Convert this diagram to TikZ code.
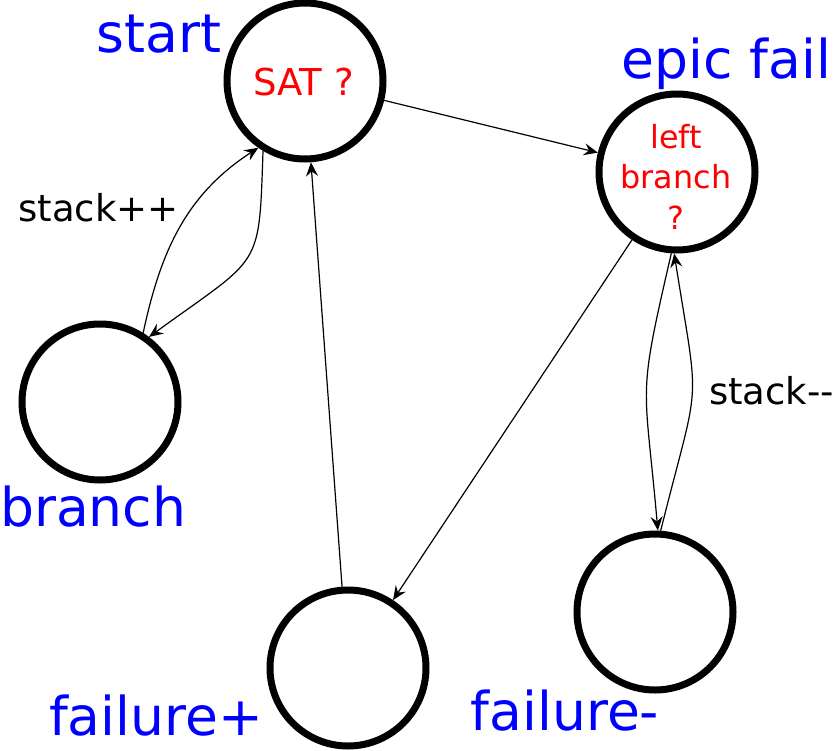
\documentclass[tikz,border=0pt]{standalone}
\usepackage{fontspec}
\setmainfont{DejaVu Sans}
\usetikzlibrary{arrows.meta}
\begin{document}
\begin{tikzpicture}[x=1pt,y=1pt,
  state/.style={circle, draw=black, line width=7pt, minimum size=156pt, inner sep=0pt, outer sep=3.5pt},
  statename/.style={text=blue, font=\fontsize{53.5}{62}\selectfont, anchor=base, inner sep=0pt},
  intext/.style={text=red, font=\fontsize{37}{42}\selectfont, anchor=base, inner sep=0pt},
  edgelab/.style={text=black, font=\fontsize{37}{42}\selectfont, anchor=base, inner sep=0pt},
  conn/.style={line width=1.2pt, -{Stealth[length=14pt,width=12pt,inset=5pt]}}
]
\useasboundingbox (0,0) rectangle (833,-750);
\node[state] (start) at (305,-81) {};
\node[state] (epic) at (677,-172) {};
\node[state] (branch) at (100,-402) {};
\node[state] (failp) at (348,-668) {};
\node[state] (failm) at (655,-612) {};

\node[statename] (lstart) at (159,-52) {start};
\node[statename] (lepic) at (726.5,-78) {epic fail};
\node[statename, anchor=base west] (lbranch) at (0,-526) {branch};
\node[statename] (lfailp) at (156,-735) {failure+};
\node[statename] (lfailm) at (565,-730) {failure-};

\node[intext] (tsat) at (303.5,-95) {SAT ?};
\node[intext, align=center, font=\fontsize{31.8}{40.5}\selectfont, anchor=north] (tleft) at (676,-124) {left\\branch\\?};

\node[edgelab] (lpp) at (98.5,-221) {stack++};
\node[edgelab] (lmm) at (771.5,-404) {stack-\kern0pt-};

\draw[conn] (start) -- (epic);
\draw[conn] (epic) -- (failp);
\draw[conn] (failp) -- (start);
\draw[conn] (branch.58) to[out=78,in=213,out distance=85pt,in distance=85pt] (start.235);
\draw[conn] (start.239) to[out=-92,in=36,out distance=120pt,in distance=140pt] (branch.53);
\draw[conn] (epic.266) to[out=257,in=95,out distance=154pt,in distance=154pt] (failm.88);
\draw[conn] (failm.86) to[out=76,in=279,out distance=165pt,in distance=165pt] (epic.268);
\end{tikzpicture}
\end{document}
